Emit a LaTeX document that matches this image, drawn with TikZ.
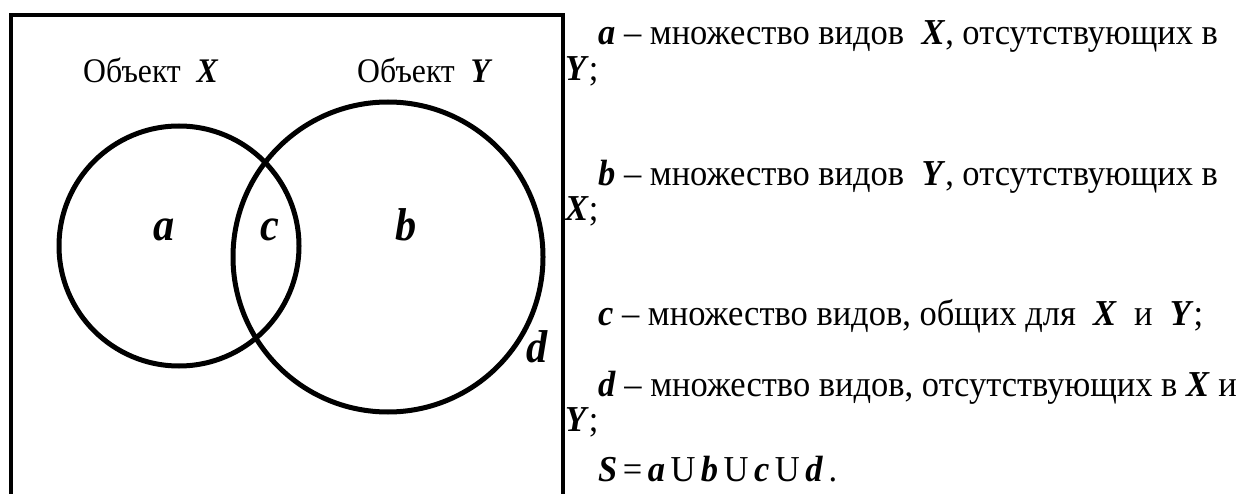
\documentclass[tikz,border=0pt]{standalone}
\usepackage{fontspec}
\setmainfont[FakeStretch=0.92]{Liberation Serif}
\newfontfamily\txtfont[FakeStretch=0.945]{Liberation Serif}
\newcommand\bivar[1]{\textbf{\textit{#1}}}
\newcommand\nsp{\hspace{5.5pt}}
\begin{document}
\begin{tikzpicture}[x=1pt,y=-1pt,
  txt/.style={anchor=base west, inner sep=0pt, font=\txtfont\fontsize{36.5}{40}\selectfont},
  lbl/.style={anchor=base west, inner sep=0pt, font=\fontsize{34.5}{38}\selectfont},
  big/.style={anchor=base, inner sep=0pt, font=\fontsize{46}{50}\selectfont\bfseries\itshape},
  setline/.style={line width=5},
  boxline/.style={line width=4}]
\useasboundingbox (0,0) rectangle (1242,494);
\draw[boxline] (11,520) -- (11,15) -- (562.5,15) -- (562.5,520);
\draw[setline] (179,246) circle[radius=120];
\draw[setline] (388,257) circle[radius=155];
\node[lbl] (ox) at (83,83) {Объект~~\bivar{X}};
\node[lbl] (oy) at (357,83) {Объект~~\bivar{Y}};
\node[big] (a) at (164,241) {a};
\node[big] (c) at (270,241) {c};
\node[big] (b) at (406,241) {b};
\node[big] (d) at (537,362) {d};
\node[txt] (la) at (598,45) {\bivar{a} – множество видов~~\bivar{X}, отсутствующих в};
\node[txt] (la2) at (565,81) {\bivar{Y};};
\node[txt] (lb) at (598,186) {\bivar{b} – множество видов~~\bivar{Y}, отсутствующих в};
\node[txt] (lb2) at (565,221) {\bivar{X};};
\node[txt] (lc) at (598,326) {\bivar{c} – множество видов, общих для~~\bivar{X}~~и~~\bivar{Y};};
\node[txt] (ld) at (598,396) {\bivar{d} – множество видов, отсутствующих в \bivar{X} и};
\node[txt] (ld2) at (565,431) {\bivar{Y};};
\node[txt] (ls) at (598,481) {\bivar{S}\nsp=\nsp\bivar{a}\nsp U\nsp\bivar{b}\nsp U\nsp\bivar{c}\nsp U\nsp\bivar{d}\nsp.};
\end{tikzpicture}
\end{document}
